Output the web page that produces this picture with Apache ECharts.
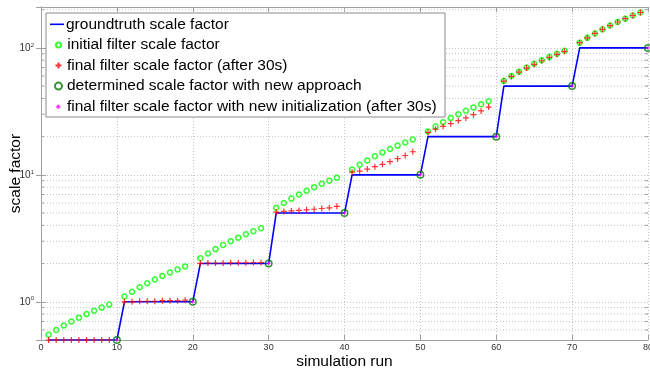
<!DOCTYPE html>
<html>
<head>
<meta charset="utf-8">
<script src="https://cdn.jsdelivr.net/npm/echarts@6/dist/echarts.min.js"></script>
<style>
html, body { margin: 0; padding: 0; background: #fff; }
#chart { width: 650px; height: 373px; }
</style>
</head>
<body>
<div id="chart"></div>
<script>
// simulation runs and the groundtruth step values
const truthRuns = [1, 2, 3, 4, 5, 6, 7, 8, 9, 10, 11, 12, 13, 14, 15, 16, 17, 18, 19, 20,
  21, 22, 23, 24, 25, 26, 27, 28, 29, 30, 31, 32, 33, 34, 35, 36, 37, 38, 39, 40,
  41, 42, 43, 44, 45, 46, 47, 48, 49, 50, 51, 52, 53, 54, 55, 56, 57, 58, 59, 60,
  61, 62, 63, 64, 65, 66, 67, 68, 69, 70, 71, 72, 73, 74, 75, 76, 77, 78, 79, 80]
const truthVals = [0.5, 0.5, 0.5, 0.5, 0.5, 0.5, 0.5, 0.5, 0.5, 0.5,
  1, 1, 1, 1, 1, 1, 1, 1, 1, 1,
  2, 2, 2, 2, 2, 2, 2, 2, 2, 2,
  5, 5, 5, 5, 5, 5, 5, 5, 5, 5,
  10, 10, 10, 10, 10, 10, 10, 10, 10, 10,
  20, 20, 20, 20, 20, 20, 20, 20, 20, 20,
  50, 50, 50, 50, 50, 50, 50, 50, 50, 50,
  100, 100, 100, 100, 100, 100, 100, 100, 100, 100]

// runs where the filters were evaluated
const filterRuns = [1, 2, 3, 4, 5, 6, 7, 8, 9, 11, 12, 13, 14, 15, 16, 17, 18, 19,
  21, 22, 23, 24, 25, 26, 27, 28, 29, 31, 32, 33, 34, 35, 36, 37, 38, 39,
  41, 42, 43, 44, 45, 46, 47, 48, 49, 51, 52, 53, 54, 55, 56, 57, 58, 59,
  61, 62, 63, 64, 65, 66, 67, 68, 69, 71, 72, 73, 74, 75, 76, 77, 78, 79]
const initialVals = [0.55, 0.6, 0.65, 0.7, 0.75, 0.8, 0.85, 0.9, 0.95,
  1.1, 1.2, 1.3, 1.4, 1.5, 1.6, 1.7, 1.8, 1.9,
  2.2, 2.4, 2.6, 2.8, 3.0, 3.2, 3.4, 3.6, 3.8,
  5.5, 6, 6.5, 7, 7.5, 8, 8.5, 9, 9.5,
  11, 12, 13, 14, 15, 16, 17, 18, 19,
  22, 24, 26, 28, 30, 32, 34, 36, 38,
  55, 60, 65, 70, 75, 80, 85, 90, 95,
  110, 120, 130, 140, 150, 160, 170, 180, 190]
const finalVals = [0.5, 0.5, 0.5, 0.5, 0.5, 0.5, 0.5, 0.5, 0.5,
  1.0, 1.0, 1.01, 1.01, 1.01, 1.02, 1.02, 1.02, 1.03,
  2.01, 2.02, 2.02, 2.02, 2.03, 2.03, 2.03, 2.04, 2.04,
  5.08, 5.15, 5.2, 5.24, 5.3, 5.36, 5.43, 5.5, 5.65,
  10.5, 10.7, 11.1, 11.6, 12.1, 12.7, 13.4, 14.2, 15.2,
  21.6, 22.9, 24.1, 25.3, 26.7, 28.1, 29.8, 31.9, 34.2,
  54.8, 59.6, 64.5, 69.4, 74.3, 79.2, 84.1, 89.0, 94.0,
  110, 120, 130, 140, 150, 160, 170, 180, 190]

// new approach: one value per step
const determinedRuns = [10, 20, 30, 40, 50, 60, 70, 80]
const determinedVals = [0.5, 1, 2, 5, 10, 20, 50, 100]
const newInitVals = [0.5, 1, 2, 5, 10, 20, 50, 100]

// log grid lines between the decades
const minorTicks = [0.6, 0.7, 0.8, 0.9, 2, 3, 4, 5, 6, 7, 8, 9,
  20, 30, 40, 50, 60, 70, 80, 90, 200]

const names = ['groundtruth scale factor', 'initial filter scale factor',
  'final filter scale factor (after 30s)', 'determined scale factor with new approach',
  'final filter scale factor with new initialization (after 30s)']

const X_MIN = 0, X_MAX = 80, Y_MIN = 0.5, Y_MAX = 210
const FONT = 'Liberation Sans'
const PLUS = 'path://M0,5L10,5M5,0L5,10'
const frame = '#a0a0a0'
const gridLine = { show: true, lineStyle: { color: '#c4c4c4', type: [1, 2], width: 1 } }

const zip = (xs, ys) => xs.map((x, i) => [x, ys[i]])

const chartDom = echarts.init(document.getElementById('chart'), null, { renderer: 'canvas' })

function legendItem(name, top, left, w, pad, icon) {
  const lg = {
    data: [name], orient: 'vertical', top: top, left: left,
    itemWidth: w, itemHeight: 14, padding: 0, z: 60,
    selectedMode: false,
    textStyle: { fontFamily: FONT, fontSize: 15.5, color: '#000', lineHeight: 16, padding: [0, 0, 0, pad] }
  }
  if (icon) lg.icon = icon
  return lg
}

const option = {
  animation: false,
  textStyle: { fontFamily: FONT },
  grid: { left: 41, right: 2, top: 7, bottom: 33, containLabel: false, outerBoundsMode: 'none' },
  graphic: [{
    type: 'rect', z: 50, silent: true,
    shape: { x: 46, y: 13, width: 399, height: 104 },
    style: { fill: '#fff', stroke: '#8a8a8a', lineWidth: 1 }
  }],
  legend: [
    legendItem(names[0], 16.3, 50, 14, -3, 'path://M0,0L14,0L14,1.6L0,1.6Z'),
    legendItem(names[1], 36.9, 55, 5, 1.2),
    legendItem(names[2], 57.5, 54.5, 6, 0.5),
    legendItem(names[3], 78.1, 54, 7, 0),
    legendItem(names[4], 98.7, 55.3, 4, 1.7)
  ],
  xAxis: [{
    type: 'value', min: X_MIN, max: X_MAX, interval: 10,
    name: 'simulation run', nameLocation: 'middle', nameGap: 14, nameMoveOverlap: false,
    nameTextStyle: { fontFamily: FONT, fontSize: 15.5, color: '#000' },
    axisLine: { lineStyle: { color: frame } },
    axisTick: { inside: true, length: 5, lineStyle: { color: frame } },
    axisLabel: { fontFamily: FONT, fontSize: 9, color: '#333', margin: 3 },
    splitLine: gridLine
  }, {
    type: 'value', position: 'top', min: X_MIN, max: X_MAX, interval: 10,
    axisLine: { show: true, lineStyle: { color: frame } },
    axisTick: { inside: true, length: 5, lineStyle: { color: frame } },
    axisLabel: { show: false }, splitLine: { show: false }
  }],
  yAxis: [{
    type: 'log', logBase: 10, min: Y_MIN, max: Y_MAX,
    name: 'scale factor', nameLocation: 'middle', nameGap: 17, nameMoveOverlap: false,
    nameTextStyle: { fontFamily: FONT, fontSize: 15.5, color: '#000' },
    axisLine: { show: true, lineStyle: { color: frame } },
    axisTick: { inside: true, length: 5, lineStyle: { color: frame } },
    axisLabel: {
      margin: 7, showMinLabel: false, showMaxLabel: false,
      formatter: (v) => {
        const p = Math.log10(v)
        if (Math.abs(p - Math.round(p)) > 1e-6) return ''
        return '{b|10}{s|' + Math.round(p) + '}'
      },
      rich: {
        b: { fontFamily: FONT, fontSize: 10, color: '#333', lineHeight: 12 },
        s: { fontFamily: FONT, fontSize: 6, color: '#333', verticalAlign: 'top', lineHeight: 12 }
      }
    },
    splitLine: gridLine
  }, {
    type: 'log', logBase: 10, min: Y_MIN, max: Y_MAX, position: 'right',
    axisLine: { show: true, lineStyle: { color: frame } },
    axisTick: { inside: true, length: 5, lineStyle: { color: frame } },
    axisLabel: { show: false }, splitLine: { show: false }
  }],
  series: [
    {
      type: 'custom', name: 'minor', silent: true, z: 1,
      data: minorTicks.map(v => [X_MIN, v]),
      renderItem(params, api) {
        const v = api.value(1)
        const l = api.coord([X_MIN, v])
        const r = api.coord([X_MAX, v])
        return {
          type: 'group', children: [
            { type: 'line', shape: { x1: l[0], y1: l[1], x2: r[0], y2: r[1] },
              style: { stroke: '#c4c4c4', lineWidth: 1, lineDash: [1, 2] } },
            { type: 'line', shape: { x1: l[0], y1: l[1], x2: l[0] + 3, y2: l[1] },
              style: { stroke: frame, lineWidth: 1 } },
            { type: 'line', shape: { x1: r[0] - 3, y1: r[1], x2: r[0], y2: r[1] },
              style: { stroke: frame, lineWidth: 1 } }
          ]
        }
      }
    },
    {
      name: names[0], type: 'line', symbol: 'none', z: 3,
      lineStyle: { color: '#0000ff', width: 1.6 },
      itemStyle: { color: '#0000ff' },
      data: zip(truthRuns, truthVals)
    },
    {
      name: names[1], type: 'scatter', symbol: 'circle', symbolSize: 5, z: 4,
      itemStyle: { color: 'rgba(255,255,255,0)', borderColor: '#00ff00', borderWidth: 1.5 },
      data: zip(filterRuns, initialVals)
    },
    {
      name: names[2], type: 'scatter', symbol: PLUS, symbolSize: 6, z: 5,
      itemStyle: { color: '#ff0000', borderColor: '#ff0000', borderWidth: 1.2 },
      data: zip(filterRuns, finalVals)
    },
    {
      name: names[3], type: 'scatter', symbol: 'circle', symbolSize: 6.5, z: 6,
      itemStyle: { color: 'rgba(255,255,255,0)', borderColor: '#007a00', borderWidth: 1.5 },
      data: zip(determinedRuns, determinedVals)
    },
    {
      name: names[4], type: 'scatter', symbol: PLUS, symbolSize: 4, z: 7,
      itemStyle: { color: '#ff00ff', borderColor: '#ff00ff', borderWidth: 1 },
      data: zip(determinedRuns, newInitVals)
    }
  ]
}

chartDom.setOption(option, true)
</script>
</body>
</html>
